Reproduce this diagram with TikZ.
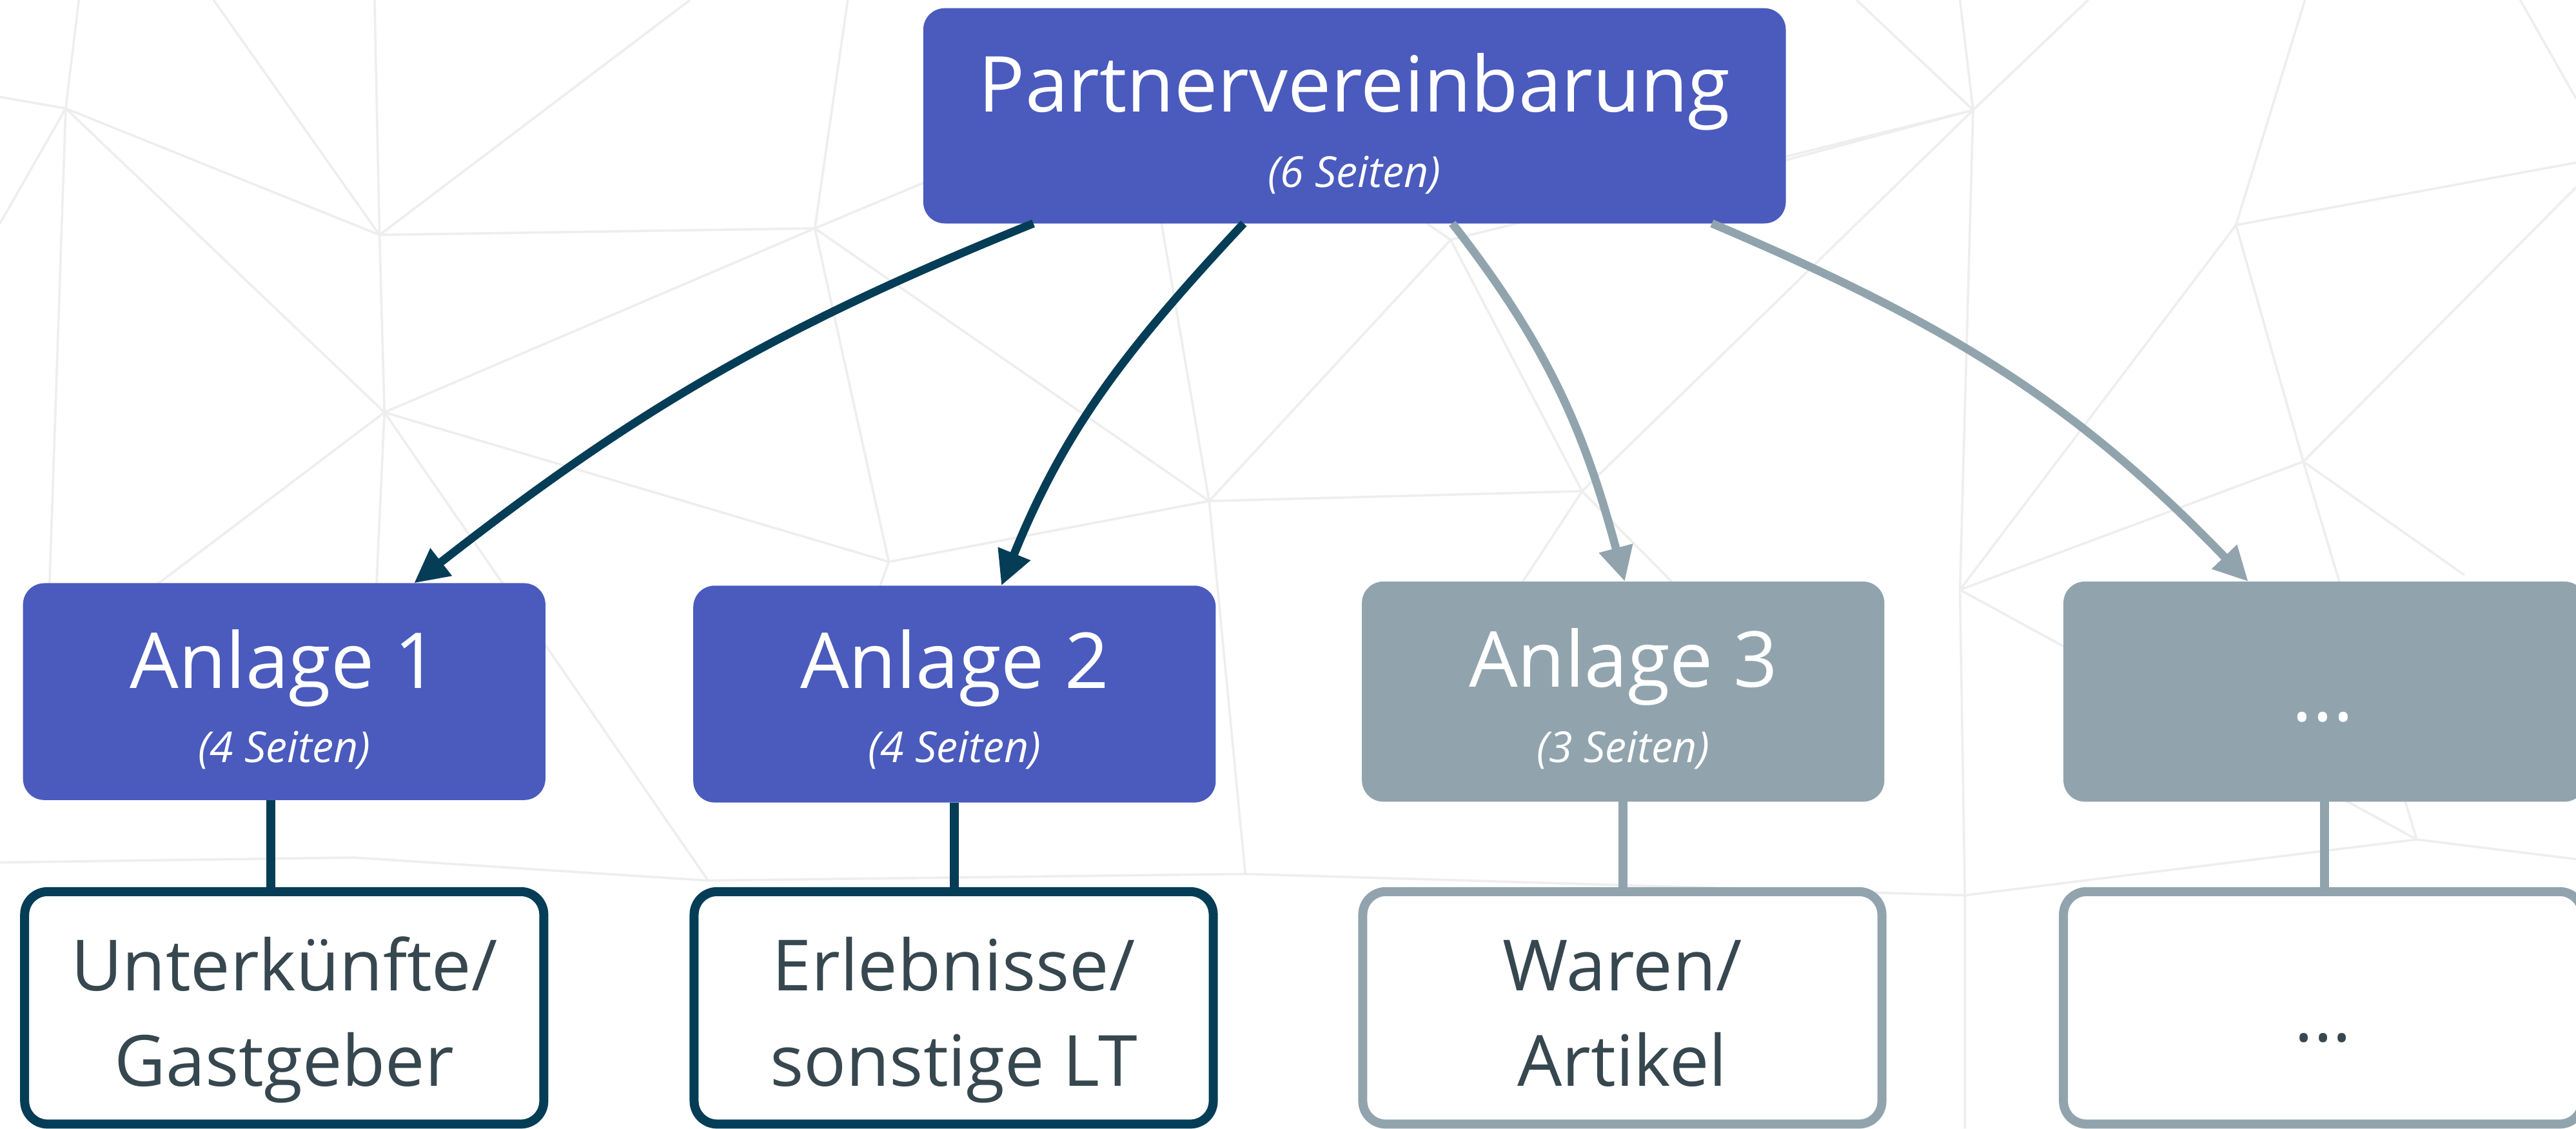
\documentclass[tikz,border=0pt]{standalone}
\usepackage{fontspec}
\setmainfont{Open Sans}
\usetikzlibrary{arrows.meta}
\definecolor{boxblue}{HTML}{4A5BBD}
\definecolor{navy}{HTML}{053D57}
\definecolor{slate}{HTML}{91A4AE}
\definecolor{ink}{HTML}{37474F}
\definecolor{meshgrey}{HTML}{EEEEEE}
\begin{document}
\begin{tikzpicture}[x=1pt,y=-1pt,
  meshline/.style={draw=meshgrey, line width=1.4pt},
  headbox/.style={rectangle, rounded corners=13pt, inner sep=0pt, outer sep=0pt, minimum width=318pt, minimum height=132pt},
  bluebox/.style={headbox, fill=boxblue},
  greybox/.style={headbox, fill=slate},
  leafbox/.style={rectangle, rounded corners=14pt, inner sep=0pt, outer sep=0pt, fill=white, line width=5.5pt, minimum width=316pt, minimum height=141.5pt},
  navyleaf/.style={leafbox, draw=navy},
  slateleaf/.style={leafbox, draw=slate},
  bigtxt/.style={anchor=base, inner sep=0pt, text=white, font=\fontsize{47pt}{56pt}\selectfont},
  subtxt/.style={anchor=base, inner sep=0pt, text=white, font=\fontsize{26pt}{31pt}\selectfont\itshape},
  leaftxt/.style={anchor=base, inner sep=0pt, text=ink, font=\fontsize{43pt}{52pt}\selectfont},
  navyarrow/.style={draw=navy, line width=5pt, -{Triangle[length=21pt,width=20pt]}},
  slatearrow/.style={draw=slate, line width=5pt, -{Triangle[length=21pt,width=20pt]}},
  navylink/.style={draw=navy, line width=5.5pt},
  slatelink/.style={draw=slate, line width=5.5pt}]
\useasboundingbox (0,0) rectangle (1568,687);
\fill[white] (0,0) rectangle (1568,687);
\clip (0,0) rectangle (1568,687);
% background mesh
\draw[meshline] (48,0)--(40,66) (0,59)--(40,66) (40,66)--(0,136) (40,66)--(231,143)
  (40,66)--(234,251) (40,66)--(30,360) (130,0)--(231,143) (228,0)--(231,143)
  (231,143)--(234,251) (234,251)--(229,360) (420,0)--(231,143) (231,143)--(496,139)
  (516,0)--(496,139) (496,139)--(570,108) (496,139)--(234,251) (496,139)--(541,342)
  (496,139)--(736,305) (234,251)--(90,360) (234,251)--(431,536) (234,251)--(541,342)
  (736,305)--(541,342) (736,305)--(706,130) (736,305)--(963,299) (736,305)--(883,146)
  (541,342)--(520,400) (736,305)--(758,532)
  (0,525)--(215,522)--(431,536)--(758,532)--(1196,545)--(1471,511)--(1568,523)
  (963,299)--(900,395) (963,299)--(1063,400) (963,299)--(883,146) (883,146)--(1201,67)
  (883,146)--(860,130) (1130,0)--(1201,67) (1271,0)--(1201,67)
  (1193,0)--(1201,67)--(1193,359)--(1196,545)--(1196,687)
  (1201,67)--(1085,98) (1201,67)--(963,299) (1403,0)--(1361,137) (1361,137)--(1568,99)
  (1361,137)--(1402,281) (1361,137)--(1193,359) (1402,281)--(1568,114)
  (1402,281)--(1193,359) (1402,281)--(1471,511) (1402,281)--(1500,350)
  (1193,359)--(1471,511) (1534,0)--(1568,60);
% boxes
\node[bluebox, minimum width=525pt, minimum height=131pt] (p) at (824.5,70.5) {};
\node[bluebox] (a1) at (173,421) {};
\node[bluebox] (a2) at (581,422.5) {};
\node[greybox, minimum height=134pt] (a3) at (988,421) {};
\node[greybox, minimum height=134pt] (a4) at (1415,421) {};
\node[navyleaf] (b1) at (173,613.5) {};
\node[navyleaf] (b2) at (580.5,613.5) {};
\node[slateleaf] (b3) at (987.5,613.5) {};
\node[slateleaf] (b4) at (1414,613.5) {};
% texts
\node[bigtxt] (pt) at (824.5,68) {Partnervereinbarung};
\node[subtxt] (ps) at (824.5,114) {(6 Seiten)};
\node[bigtxt] (a1t) at (173,419) {Anlage 1};
\node[subtxt] (a1s) at (173,464) {(4 Seiten)};
\node[bigtxt] (a2t) at (581,419) {Anlage 2};
\node[subtxt] (a2s) at (581,464) {(4 Seiten)};
\node[bigtxt] (a3t) at (988,418) {Anlage 3};
\node[subtxt] (a3s) at (988,464) {(3 Seiten)};
\node[bigtxt] (a4t) at (1414,439) {...};
\node[leaftxt] (b1t) at (173,603) {Unterkünfte/};
\node[leaftxt] (b1u) at (173,661) {Gastgeber};
\node[leaftxt] (b2t) at (580.5,603) {Erlebnisse/};
\node[leaftxt] (b2u) at (580.5,661) {sonstige LT};
\node[leaftxt] (b3t) at (987.5,603) {Waren/};
\node[leaftxt] (b3u) at (987.5,661) {Artikel};
\node[leaftxt] (b4t) at (1414,634) {...};
% vertical links
\draw[navylink] ([xshift=-8pt]a1.south) -- ([xshift=-8pt]a1.south |- b1.north);
\draw[navylink] (a2.south) -- (a2.south |- b2.north);
\draw[slatelink] (a3.south) -- (a3.south |- b3.north);
\draw[slatelink] (a4.south) -- (a4.south |- b4.north);
% arrows
\draw[navyarrow] ([xshift=-195.5pt]p.south) to[out=202,in=38] ([xshift=79pt]a1.north);
\draw[navyarrow] ([xshift=-67.5pt]p.south) to[out=227,in=68] ([xshift=28.5pt]a2.north);
\draw[slatearrow] ([xshift=59.5pt]p.south) to[out=308,in=105] ([xshift=1pt]a3.north);
\draw[slatearrow] ([xshift=217.5pt]p.south) to[out=337,in=134] ([xshift=-46.5pt]a4.north);
\end{tikzpicture}
\end{document}
